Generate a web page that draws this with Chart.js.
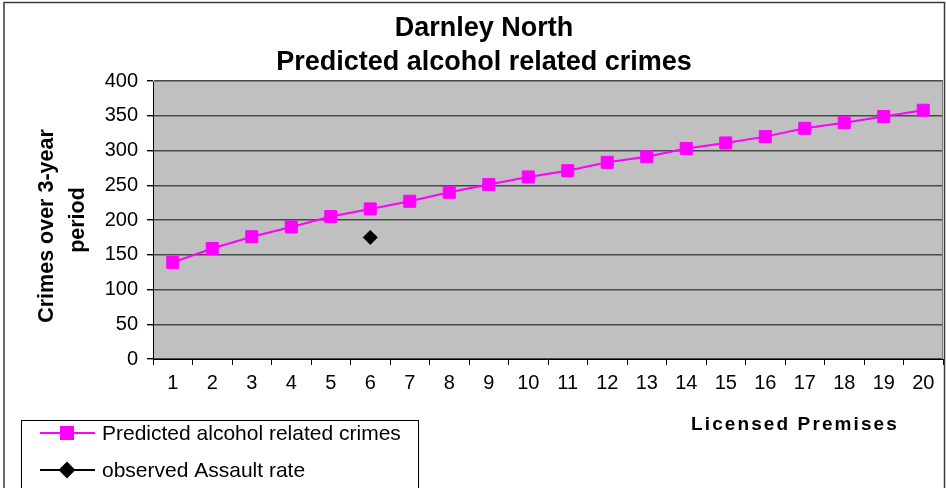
<!DOCTYPE html>
<html>
<head>
<meta charset="utf-8">
<script src="https://cdn.jsdelivr.net/npm/chart.js@4/dist/chart.umd.min.js"></script>
<style>
  html, body { margin: 0; padding: 0; background: #fff; }
  #wrap { width: 946px; height: 488px; position: relative; }
</style>
</head>
<body>
<div id="wrap"><canvas id="chart"></canvas></div>
<script>
// data
const premises = ['1', '2', '3', '4', '5', '6', '7', '8', '9', '10',
  '11', '12', '13', '14', '15', '16', '17', '18', '19', '20'];
const predicted = [139, 159, 176, 190, 205, 216, 227, 240, 251, 262,
  271, 283, 291, 303, 311, 320, 332, 340, 349, 358];
const observed = [null, null, null, null, null, 175, null, null, null, null,
  null, null, null, null, null, null, null, null, null, null];
const titleLines = ['Darnley North', 'Predicted alcohol related crimes'];
const yTitle = ['Crimes over 3-year  ', 'period'];
const xTitle = 'Licensed Premises';

const FONT = "'Liberation Sans', Arial, sans-serif";

// plot background + outer frame
const background = {
  id: 'background',
  beforeDraw(chart) {
    const {ctx, chartArea: a} = chart;
    ctx.save();
    ctx.fillStyle = '#c0c0c0';
    ctx.fillRect(a.left, a.top, a.right - a.left, a.bottom - a.top);
    ctx.strokeStyle = '#3a3a3a';
    ctx.lineWidth = 1.5;
    ctx.strokeRect(4, 2.5, 940.5, 520);
    ctx.restore();
  }
};

// plot border, x title, legend box
const extras = {
  id: 'extras',
  afterDraw(chart) {
    const {ctx, chartArea: a} = chart;
    ctx.save();
    ctx.strokeStyle = '#808080';
    ctx.lineWidth = 1;
    ctx.beginPath();
    ctx.moveTo(a.left, a.top + 0.5);
    ctx.lineTo(a.right - 0.5, a.top + 0.5);
    ctx.lineTo(a.right - 0.5, a.bottom);
    ctx.stroke();

    // x axis title
    ctx.fillStyle = '#000';
    ctx.font = 'bold 19px ' + FONT;
    ctx.letterSpacing = '2.1px';
    ctx.textAlign = 'center';
    ctx.textBaseline = 'middle';
    ctx.fillText(xTitle, 795, 425);
    ctx.letterSpacing = '0px';

    // legend
    ctx.fillStyle = '#fff';
    ctx.fillRect(21, 420, 397, 80);
    ctx.strokeStyle = '#000';
    ctx.lineWidth = 1;
    ctx.strokeRect(21.5, 420.5, 397, 80);
    const rows = [433, 470];
    chart.data.datasets.forEach((ds, i) => {
      const y = rows[i];
      ctx.strokeStyle = ds.borderColor;
      ctx.lineWidth = 2;
      ctx.beginPath();
      ctx.moveTo(40, y);
      ctx.lineTo(95, y);
      ctx.stroke();
      ctx.fillStyle = ds.pointBackgroundColor;
      ctx.strokeStyle = ds.pointBorderColor;
      Chart.helpers.drawPoint(ctx, {
        pointStyle: ds.pointStyle, radius: ds.pointRadius, rotation: 0, borderWidth: 1
      }, 67, y);
      ctx.fillStyle = '#000';
      ctx.font = '21px ' + FONT;
      ctx.textAlign = 'left';
      ctx.textBaseline = 'middle';
      ctx.fillText(ds.label, 102, y + 1);
    });
    ctx.restore();
  }
};

const chart = new Chart(document.getElementById('chart'), {
  type: 'line',
  data: {
    labels: premises,
    datasets: [{
      label: 'Predicted alcohol related crimes',
      data: predicted,
      borderColor: '#ff00ff',
      borderWidth: 2,
      pointStyle: 'rect',
      pointRadius: 8.5,
      pointBackgroundColor: '#ff00ff',
      pointBorderColor: '#ff00ff',
      pointBorderWidth: 1,
      tension: 0
    }, {
      label: 'observed Assault rate',
      data: observed,
      borderColor: '#000',
      showLine: false,
      pointStyle: 'rectRot',
      pointRadius: 7,
      pointBackgroundColor: '#000',
      pointBorderColor: '#000',
      pointBorderWidth: 1
    }]
  },
  options: {
    responsive: true,
    maintainAspectRatio: false,
    animation: false,
    events: [],
    layout: { autoPadding: false, padding: { left: 25, right: 3, top: 0, bottom: 0 } },
    plugins: {
      legend: { display: false },
      tooltip: { enabled: false },
      title: {
        display: true,
        text: titleLines,
        color: '#000',
        font: { family: FONT, size: 27, weight: 'bold', lineHeight: 1.26 },
        padding: { top: 12, bottom: 1 }
      }
    },
    scales: {
      x: {
        offset: true,
        afterFit(scale) {
          scale.height = 129;
          scale.paddingLeft = 0;
          scale.paddingRight = 0;
        },
        grid: {
          offset: true,
          drawOnChartArea: false,
          drawTicks: true,
          tickLength: 6,
          tickColor: '#000'
        },
        border: { color: '#000', width: 1 },
        ticks: {
          color: '#000',
          font: { family: FONT, size: 20 },
          padding: 6,
          maxRotation: 0,
          autoSkip: false
        }
      },
      y: {
        min: 0,
        max: 400,
        afterFit(scale) { scale.width = 128; },
        grid: {
          color: '#4a4a4a',
          lineWidth: 1.4,
          tickLength: 6,
          tickColor: '#000'
        },
        border: { color: '#000', width: 1 },
        ticks: {
          stepSize: 50,
          color: '#000',
          font: { family: FONT, size: 20 },
          padding: 9
        },
        title: {
          display: true,
          text: yTitle,
          color: '#000',
          font: { family: FONT, size: 21.5, weight: 'bold', lineHeight: 1.45 },
          padding: { top: 6, bottom: 0 }
        }
      }
    }
  },
  plugins: [background, extras]
});
</script>
</body>
</html>
